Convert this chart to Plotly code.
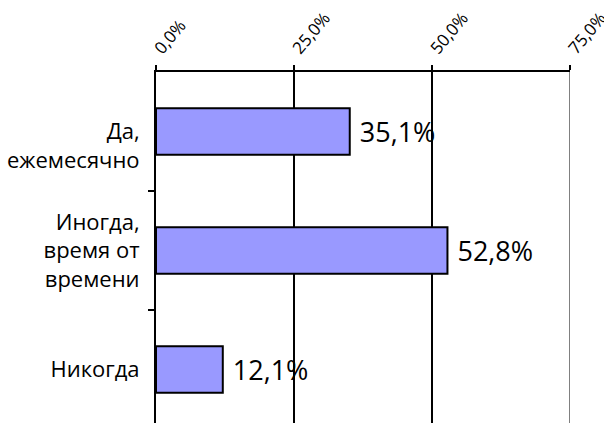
import plotly.graph_objects as go

categories = ["<br>Да,<br>ежемесячно", "Иногда,<br>время от<br>времени", "Никогда"]
values = [35.1, 52.8, 12.1]
tick_vals = [0, 25, 50, 75]
tick_labels = ["0,0%", "25,0%", "50,0%", "75,0%"]
positions = [0, 1, 2]
boundaries = [0.5, 1.5]

fig = go.Figure()
fig.add_trace(go.Bar(
    y=positions, x=values, orientation="h",
    width=0.39,
    marker=dict(color="#9999FF", line=dict(color="black", width=2)),
    texttemplate=" %{x:.1f}%", textposition="outside",
    textfont=dict(size=27, color="black", family="Open Sans"),
    cliponaxis=False,
))

fig.add_shape(type="line", x0=tick_vals[-1], x1=tick_vals[-1], yref="paper", y0=0, y1=1,
              line=dict(color="#808080", width=2), layer="below")

fig.update_layout(
    width=604, height=423,
    margin=dict(l=156, r=34, t=72, b=0),
    plot_bgcolor="white", paper_bgcolor="white",
    separators=", ",
    showlegend=False,
    font=dict(family="Open Sans", color="black"),
    xaxis=dict(
        side="top", range=[0, 75], tickvals=tick_vals, ticktext=tick_labels,
        tickangle=-50, tickfont=dict(size=17), ticklabeloverflow="allow",
        showgrid=True, gridcolor="black", gridwidth=2,
        showline=True, linecolor="black", linewidth=2,
        ticks="outside", ticklen=5, tickwidth=2, tickcolor="black",
        zeroline=False, automargin=False,
    ),
    yaxis=dict(
        range=[2.45, -0.5], tickvals=positions, ticktext=categories,
        tickfont=dict(size=22),
        showline=True, linecolor="black", linewidth=2,
        ticks="outside", ticklen=0, ticklabelstandoff=10,
        showgrid=False, zeroline=False, automargin=False,
        minor=dict(tickvals=boundaries, ticks="outside", ticklen=6, tickwidth=2, tickcolor="black"),
    ),
)

fig.write_html(
    "out.html",
    config={"displayModeBar": False},
    post_script="document.body.style.margin='0';document.body.style.overflow='hidden';",
)
